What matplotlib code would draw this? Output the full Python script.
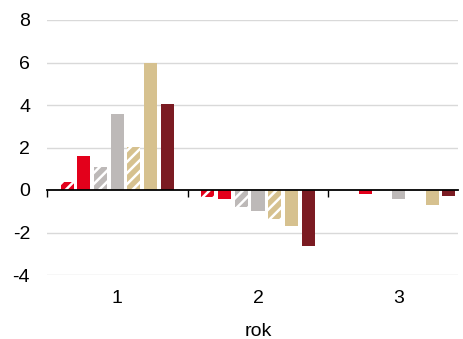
import matplotlib
matplotlib.use("Agg")
import matplotlib.pyplot as plt
import matplotlib.transforms as mtransforms
import numpy as np

plt.rcParams['font.family'] = ['Liberation Sans', 'DejaVu Sans']
plt.rcParams['hatch.linewidth'] = 1.8

# Data
categories = ["1", "2", "3"]
series_hatched_red = [0.38, -0.33, 0.0]
series_red = [1.6, -0.42, -0.2]
series_hatched_gray = [1.07, -0.8, 0.0]
series_gray = [3.6, -0.98, -0.4]
series_hatched_tan = [2.02, -1.36, 0.0]
series_tan = [6.0, -1.69, -0.7]
series_darkred = [4.05, -2.63, -0.27]
y_ticks = [-4, -2, 0, 2, 4, 6, 8]
x_label = "rok"

RED = "#E3001B"
GRAY = "#BDB9B8"
TAN = "#D6C18F"
DARKRED = "#7B1B22"

series = [
    (series_hatched_red, RED, True),
    (series_red, RED, False),
    (series_hatched_gray, GRAY, True),
    (series_gray, GRAY, False),
    (series_hatched_tan, TAN, True),
    (series_tan, TAN, False),
    (series_darkred, DARKRED, False),
]

fig = plt.figure(figsize=(4.64, 3.39), dpi=100)
ax = fig.add_axes([46.7 / 464, 1 - 275 / 339, (458 - 46.7) / 464, (275 - 20) / 339])

x = np.arange(1, len(categories) + 1)
step = 0.1185
width = 0.093
n = len(series)
for i, (vals, color, hatched) in enumerate(series):
    pos = x + (i - (n - 1) / 2) * step
    if hatched:
        ax.bar(pos, vals, width=width, facecolor=color, edgecolor="white",
               linewidth=0, hatch="///", zorder=3)
    else:
        ax.bar(pos, vals, width=width, color=color, linewidth=0, zorder=3)

ax.set_yticks(y_ticks)
ax.set_yticklabels([str(t) for t in y_ticks])
ax.tick_params(axis="y", length=0, pad=12, labelsize=14)

# horizontal gridlines (zero handled by the axis line)
for t in y_ticks:
    if t != 0:
        ax.axhline(t, color="#D9D9D9", linewidth=1.0, zorder=1)

for side in ["left", "right", "top"]:
    ax.spines[side].set_visible(False)

# category axis drawn through zero, tick marks at category boundaries
ax.spines["bottom"].set_position(("data", 0))
ax.spines["bottom"].set_color("black")
ax.spines["bottom"].set_linewidth(1.3)
ax.spines["bottom"].set_zorder(4)
ax.set_xticks([0.5, 1.5, 2.5, 3.5])
ax.set_xticklabels([])
ax.tick_params(axis="x", direction="out", length=5, width=1.0, color="black")

ax.set_xlim(0.5, 3.42)
ax.set_ylim(-4, 8)

# category labels along the bottom of the plot area
sec = ax.secondary_xaxis(0)
sec.set_xticks(x)
sec.set_xticklabels(categories)
sec.tick_params(axis="x", length=0, pad=11, labelsize=14)
sec.spines["bottom"].set_visible(False)

trans = mtransforms.blended_transform_factory(ax.transData, ax.transAxes)
ax.text(2, -0.238, x_label, transform=trans, ha="center", va="baseline",
        fontsize=14)

fig.savefig("out.png", dpi=100)
